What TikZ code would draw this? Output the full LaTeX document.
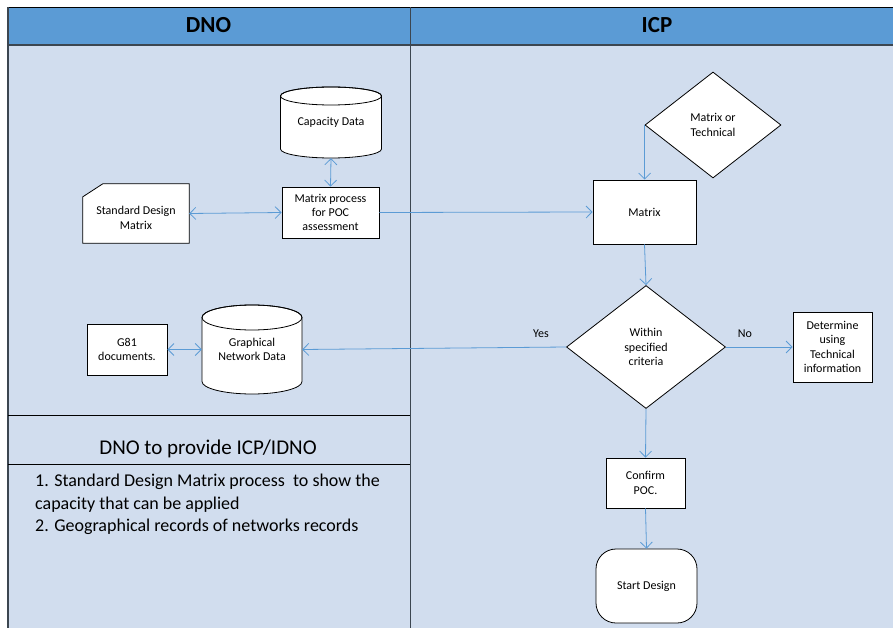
\documentclass[tikz,border=0pt]{standalone}
\usepackage{fontspec}
\setmainfont{Carlito}
\usetikzlibrary{shapes.geometric,arrows.meta,calc}
\definecolor{hdr}{RGB}{91,155,213}
\definecolor{bodyc}{RGB}{209,221,238}
\definecolor{arr}{RGB}{91,155,213}
\definecolor{lane}{RGB}{60,70,80}
\begin{document}
\begin{tikzpicture}[x=1pt,y=-1pt,
  lbl/.style={font=\fontsize{12}{14.4}\selectfont, align=center},
  box/.style={lbl, draw=black, fill=white, line width=0.8pt, inner sep=1pt},
  plain/.style={lbl, inner sep=0pt},
  dec/.style={lbl, diamond, draw=black, fill=white, line width=0.8pt, inner sep=0pt},
  shp/.style={draw=black, fill=white, line width=0.8pt},
  tip/.tip={Straight Barb[length=6pt,width=12pt]},
  con/.style={draw=arr, line width=0.8pt, -tip},
  dcon/.style={draw=arr, line width=0.8pt, tip-tip},
  hdrtxt/.style={font=\fontsize{23}{26}\selectfont\bfseries},
]
\useasboundingbox (0,0) rectangle (893,628);
% lanes
\fill[bodyc] (8,45) rectangle (893,628);
\fill[hdr] (8,7.5) rectangle (893,45);
\draw[black, line width=1pt] (8,7.5) -- (893,7.5);
\draw[lane, line width=1.2pt] (8,45) -- (893,45);
\draw[lane, line width=1.2pt] (8,7.5) -- (8,628);
\draw[lane, line width=0.8pt] (410,7.5) -- (410,628);
\draw[black, line width=0.8pt] (8,415) -- (410,415);
\draw[black, line width=0.8pt] (8,464) -- (410,464);
\node[hdrtxt, anchor=base] (hdno) at (208.5,33) {DNO};
\node[hdrtxt, anchor=base] (hicp) at (657,33) {ICP};
\node[anchor=base, font=\fontsize{21}{25}\selectfont] (prov) at (208,454) {DNO to provide ICP/IDNO};
\node[anchor=north west, inner sep=0pt, align=left, font=\fontsize{18}{22.5}\selectfont] (list) at (35,474)
  {1. Standard Design Matrix process\ \ to show the\\capacity that can be applied\\2. Geographical records of networks records};

% Capacity Data cylinder
\path[shp] (280.5,96) -- (280.5,149) arc[start angle=180,end angle=0,x radius=50.5,y radius=9]
  -- (381.5,96) arc[start angle=0,end angle=-180,x radius=50.5,y radius=9] -- cycle;
\draw[black, line width=0.8pt] (331,96) ellipse[x radius=50.5,y radius=9];
\node[plain, minimum width=101pt, minimum height=71pt] (cap) at (331,122.5) {\raisebox{-6pt}{Capacity Data}};

% Graphical Network Data cylinder
\path[shp] (202,317.5) -- (202,381.5) arc[start angle=180,end angle=0,x radius=50,y radius=12.5]
  -- (302,317.5) arc[start angle=0,end angle=-180,x radius=50,y radius=12.5] -- cycle;
\draw[black, line width=0.8pt] (252,317.5) ellipse[x radius=50,y radius=12.5];
\node[plain, minimum width=100pt, minimum height=89pt] (gnd) at (252,349.5) {\raisebox{-8pt}{\shortstack{Graphical\\Network Data}}};

% Standard Design Matrix (card)
\node[plain, minimum width=106pt, minimum height=59pt] (sdm) at (136,213.5) {};
\path[shp] ($(sdm.north west)+(0,13)$) -- ($(sdm.north west)+(20,0)$) -- (sdm.north east)
  -- (sdm.south east) -- (sdm.south west) -- cycle;
\node[plain] (sdmt) at (136,218) {Standard Design\\Matrix};

\node[box, minimum width=97pt, minimum height=51pt] (proc) at (330.5,212.5) {Matrix process\\for POC\\assessment};
\node[box, minimum width=103pt, minimum height=64pt] (mtx) at (644.5,212) {Matrix};
\node[dec, minimum width=136pt, minimum height=106pt, aspect=1.28] (mot) at (713,125) {Matrix or\\Technical};
\node[dec, minimum width=159pt, minimum height=123pt, aspect=1.29] (win) at (646,347) {Within\\specified\\criteria};
\node[box, minimum width=79pt, minimum height=70pt] (det) at (832.5,347) {Determine\\using\\Technical\\information};
\node[box, minimum width=80pt, minimum height=51pt] (g81) at (127,349.5) {G81\\documents.};
\node[box, minimum width=79pt, minimum height=50pt] (cpoc) at (645.5,483) {Confirm\\POC.};
\node[box, rounded corners=20pt, minimum width=101pt, minimum height=74pt] (sd) at (646.5,586) {Start Design};

% connectors
\draw[dcon] (cap.south) -- (proc.north);
\draw[dcon] (sdm.east) -- (proc.west);
\draw[con] (proc.east) -- (mtx.west);
\draw[con] (mot.west) -- (mot.west |- mtx.north);
\draw[con] (mtx.south) -- (win.north);
\draw[con] (win.east) -- (det.west);
\draw[con] (win.west) -- (gnd.east);
\draw[dcon] (g81.east) -- (gnd.west);
\draw[con] (win.south) -- (cpoc.north);
\draw[con] (cpoc.south) -- (sd.north);
\node[lbl] (yes) at (541,334) {Yes};
\node[lbl] (no) at (745,334) {No};
\end{tikzpicture}
\end{document}
